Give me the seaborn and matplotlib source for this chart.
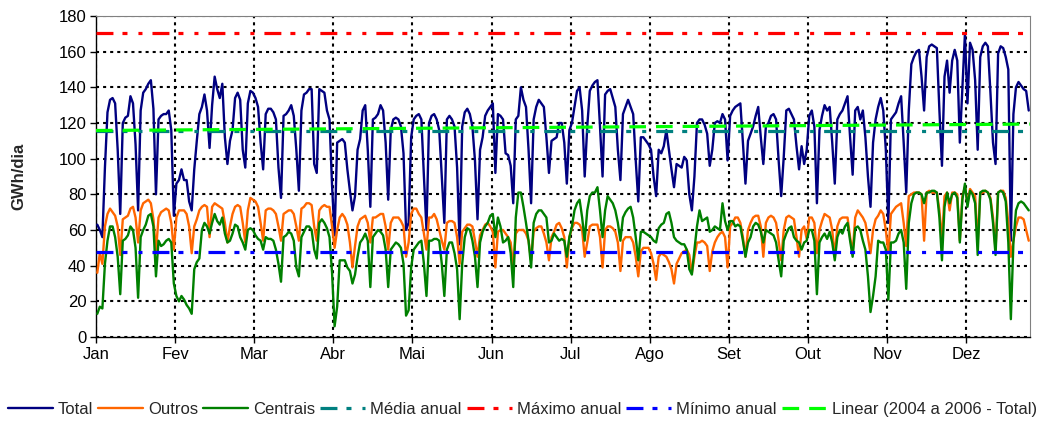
import numpy as np
import pandas as pd
import matplotlib
matplotlib.use('Agg')
import matplotlib.pyplot as plt
import seaborn as sns
from matplotlib.lines import Line2D

months = ['Jan', 'Fev', 'Mar', 'Abr', 'Mai', 'Jun', 'Jul', 'Ago', 'Set', 'Out', 'Nov', 'Dez']

total = [63,60,56,95,126,133,134,131,105,69,
         120,123,124,135,131,108,71,127,137,139,
         142,144,128,80,122,124,125,125,127,116,
         68,86,88,94,88,88,76,71,94,110,
         125,129,136,127,106,130,146,139,134,142,
         112,97,110,116,134,137,133,105,95,131,
         138,137,134,129,109,94,125,128,128,126,
         122,95,78,124,125,127,130,124,105,82,
         127,136,137,139,139,97,92,139,138,137,
         127,122,85,57,109,110,111,109,94,82,
         71,79,105,111,127,130,105,73,122,123,
         125,130,127,109,77,116,122,123,122,118,
         103,60,64,112,122,124,125,122,90,60,
         120,124,125,122,116,90,64,122,124,122,
         118,95,52,118,126,128,125,118,99,66,
         105,112,124,127,129,131,92,125,124,122,
         103,102,96,75,122,124,140,133,129,105,
         75,122,129,133,131,129,112,92,110,111,
         112,120,120,109,86,116,120,129,138,140,
         127,90,118,138,141,143,144,118,90,136,
         138,139,134,129,105,88,125,129,133,129,
         125,99,76,112,112,110,108,105,90,79,
         105,103,107,116,105,94,84,97,96,95,
         101,99,80,71,90,120,122,122,119,114,
         96,105,120,121,120,125,122,99,124,127,
         129,130,131,109,86,110,114,118,124,129,
         112,97,118,120,124,125,122,99,79,101,
         127,128,125,122,107,94,107,97,105,124,
         127,118,75,116,124,130,127,129,109,86,
         122,125,127,131,135,112,91,127,129,122,
         127,112,90,73,109,122,129,134,127,105,
         64,122,124,126,131,135,109,81,127,153,
         157,160,161,146,127,157,163,164,163,162,
         127,96,146,155,137,155,161,155,109,140,
         170,131,165,161,144,105,157,163,165,163,
         137,109,97,159,163,162,157,150,54,125,
         140,143,141,139,138,127]

outros = [36,47,41,62,69,72,70,68,62,46,
          66,67,68,72,73,67,53,71,75,76,
          77,75,66,48,67,70,71,72,71,64,
          49,67,71,71,71,69,62,47,62,66,
          71,73,74,73,56,73,75,74,73,72,
          64,53,62,69,73,74,73,64,53,71,
          78,77,76,73,64,54,71,72,72,71,
          69,62,54,69,70,71,71,69,62,54,
          72,73,75,75,74,62,54,71,73,74,
          73,73,62,50,60,67,69,67,63,53,
          39,51,62,66,67,68,64,53,67,67,
          68,69,69,62,49,64,67,67,67,65,
          62,45,53,69,72,72,69,67,58,49,
          67,67,69,66,60,54,49,64,65,65,
          64,56,41,59,61,63,63,62,54,45,
          57,60,63,64,62,59,39,59,60,60,
          58,56,53,39,58,60,60,60,58,54,
          43,59,61,62,62,58,53,43,56,59,
          63,64,61,56,39,56,61,64,64,63,
          60,45,53,62,63,63,63,56,39,60,
          62,62,61,59,53,37,54,56,56,56,
          53,45,34,48,50,50,50,47,41,32,
          45,47,46,45,42,38,30,41,44,47,
          48,49,46,36,45,53,53,54,53,51,
          37,48,53,56,58,59,56,39,62,64,
          67,67,64,56,45,60,64,67,68,68,
          62,45,64,67,68,67,64,54,43,60,
          67,68,67,66,56,45,60,62,55,67,
          67,64,47,60,65,69,68,67,60,45,
          62,66,67,67,67,56,47,67,71,69,
          67,64,56,47,60,66,68,71,69,60,
          47,69,71,73,74,75,64,51,79,80,
          81,81,81,80,54,81,82,81,81,81,
          71,54,79,81,71,81,81,80,54,79,
          84,75,83,81,79,53,81,81,82,81,
          78,67,49,81,82,82,78,64,45,54,
          62,67,67,66,60,54]

centrais = [13,17,16,41,54,62,62,56,45,24,
            54,55,57,62,60,50,22,56,60,63,
            68,69,62,34,54,51,52,54,55,53,
            30,23,20,23,21,18,16,13,38,42,
            44,60,64,62,58,64,69,65,63,67,
            58,53,54,58,63,62,56,53,49,60,
            61,60,57,55,54,49,56,55,55,54,
            49,41,31,56,57,59,58,54,39,34,
            56,59,62,62,60,49,44,64,66,64,
            61,56,36,6,17,43,43,43,39,37,
            30,35,45,53,55,58,54,28,56,58,
            60,59,57,49,28,49,51,53,52,50,
            41,12,15,39,49,51,53,54,41,23,
            54,54,55,55,54,41,23,49,53,53,
            47,38,10,41,56,61,60,54,45,28,
            53,59,62,64,68,69,56,67,62,53,
            54,56,47,28,67,81,81,73,64,54,
            39,64,69,71,71,69,67,53,54,58,
            56,54,55,54,45,56,62,71,75,77,
            67,54,71,79,81,81,84,71,56,71,
            79,77,75,71,64,54,67,70,72,73,
            67,56,43,59,59,58,57,56,54,53,
            61,63,64,69,70,64,56,54,53,52,
            52,49,38,35,49,62,71,65,66,67,
            59,60,62,61,60,75,65,60,65,65,
            62,63,62,54,45,53,56,62,64,63,
            59,53,60,59,58,57,53,43,34,54,
            58,61,62,56,54,53,49,53,54,60,
            60,54,24,53,56,58,55,59,53,43,
            56,60,58,62,64,54,45,61,62,60,
            54,49,34,14,23,34,54,53,53,49,
            21,53,53,54,58,60,53,27,64,75,
            80,81,81,80,75,81,81,82,82,81,
            67,43,73,81,75,80,81,78,53,77,
            86,73,82,80,75,46,81,82,82,81,
            77,64,46,81,82,81,76,53,10,53,
            71,75,76,75,73,71]

media_anual = 115.4
maximo_anual = 170.5
minimo_anual = 47.5
linear_inicio = 115.8
linear_fim = 119.4

sns.set_style('ticks')
plt.rcParams['font.family'] = ['Liberation Sans', 'DejaVu Sans']
plt.rcParams['lines.scale_dashes'] = False

days = np.arange(len(total))
df = pd.DataFrame({'dia': days, 'Total': total, 'Outros': outros, 'Centrais': centrais})
n = len(days)

fig = plt.figure(figsize=(10.55, 4.21), dpi=100)
ax = fig.add_axes([96 / 1055, 1 - 337 / 421, 934 / 1055, 321 / 421])

c_total, c_outros, c_centrais = '#000080', '#FF6600', '#008000'
c_media, c_max, c_min, c_lin = '#008080', '#FF0000', '#0000FF', '#00FF00'
ddot = (0, (12.2, 6.5, 3.6, 7.9, 2.9, 7.2))
dash = (0, (12.0, 7.2))

sns.lineplot(data=df, x='dia', y='Total', ax=ax, color=c_total, linewidth=1.7, zorder=3)
sns.lineplot(data=df, x='dia', y='Outros', ax=ax, color=c_outros, linewidth=1.7, zorder=3)
sns.lineplot(data=df, x='dia', y='Centrais', ax=ax, color=c_centrais, linewidth=1.7, zorder=3)

ax.axhline(media_anual, color=c_media, linewidth=2.3, linestyle=ddot, zorder=4)
ax.axhline(maximo_anual, color=c_max, linewidth=2.3, linestyle=ddot, zorder=4)
ax.axhline(minimo_anual, color=c_min, linewidth=2.3, linestyle=ddot, zorder=4)
ax.plot([-0.5, n - 0.5], [linear_inicio, linear_fim], color=c_lin, linewidth=2.3,
        linestyle=dash, zorder=4)

ax.set_xlim(-0.5, n - 0.5)
ax.set_ylim(0, 180)
ax.set_yticks(np.arange(0, 181, 20))
ax.set_xticks([-0.5 + 31 * k for k in range(12)])
ax.set_xticklabels(months)
ax.set_xlabel('')
ax.set_ylabel('GWh/dia', fontsize=12, fontweight='bold')
ax.yaxis.set_label_coords(-0.075, 0.5)

ax.grid(True, axis='both', color='black', linestyle=(0, (2.2, 2.9)), linewidth=1.5, zorder=1)
ax.set_axisbelow(True)
ax.tick_params(direction='out', length=4, width=1, labelsize=12, pad=3, colors='black')
for s in ['left', 'bottom']:
    ax.spines[s].set_color('black')
    ax.spines[s].set_linewidth(1)
for s in ['top', 'right']:
    ax.spines[s].set_visible(True)
    ax.spines[s].set_color('#808080')
    ax.spines[s].set_linewidth(0.8)

handles = [
    Line2D([], [], color=c_total, linewidth=1.7),
    Line2D([], [], color=c_outros, linewidth=1.7),
    Line2D([], [], color=c_centrais, linewidth=1.7),
    Line2D([], [], color=c_media, linewidth=2.3, linestyle=ddot),
    Line2D([], [], color=c_max, linewidth=2.3, linestyle=ddot),
    Line2D([], [], color=c_min, linewidth=2.3, linestyle=ddot),
    Line2D([], [], color=c_lin, linewidth=2.3, linestyle=dash),
]
labels = ['Total', 'Outros', 'Centrais', 'Média anual', 'Máximo anual', 'Mínimo anual',
          'Linear (2004 a 2006 - Total)']
fig.legend(handles, labels, loc='center', bbox_to_anchor=(0.495, 0.028), ncol=7,
           frameon=False, fontsize=12, handlelength=2.7, handletextpad=0.3,
           columnspacing=0.3, borderaxespad=0)

fig.savefig('out.png', dpi=100)
